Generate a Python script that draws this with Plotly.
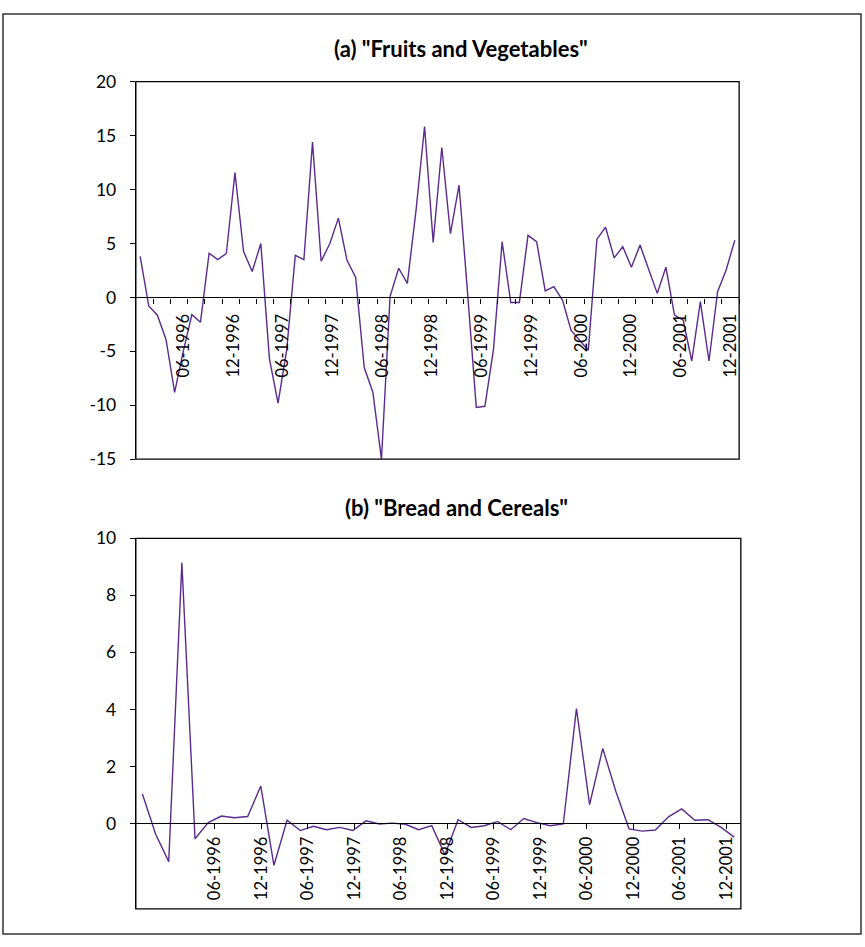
import plotly.graph_objects as go

W, H = 865, 947

# Panel (a): monthly change, Fruits and Vegetables (70 observations)
fruit_veg = [3.8, -0.8, -1.65, -3.9, -8.8, -5.0, -1.6, -2.3, 4.1, 3.5,
             4.07, 11.57, 4.25, 2.4, 5.0, -5.7, -9.8, -4.9, 3.9, 3.5,
             14.4, 3.35, 4.97, 7.35, 3.44, 1.88, -6.5, -8.8, -15.0, 0.1,
             2.7, 1.3, 8.0, 15.85, 5.1, 13.9, 5.9, 10.4, 0.3, -10.2,
             -10.1, -4.8, 5.16, -0.47, -0.47, 5.75, 5.16, 0.6, 1.0, -0.25,
             -3.06, -4.0, -4.9, 5.4, 6.5, 3.66, 4.7, 2.8, 4.85, 2.6,
             0.37, 2.8, -1.65, -2.1, -5.9, -0.4, -5.9, 0.53, 2.57, 5.3]

# Panel (b): Bread and Cereals (46 observations)
bread_cereals = [1.03, -0.37, -1.34, 9.14, -0.54, 0.03, 0.26, 0.2, 0.24, 1.31,
                 -1.47, 0.11, -0.25, -0.1, -0.22, -0.14, -0.25, 0.09, -0.02, 0.01,
                 -0.03, -0.22, -0.08, -1.1, 0.13, -0.14, -0.08, 0.07, -0.22, 0.17,
                 0.03, -0.08, -0.02, 4.03, 0.66, 2.63, 1.12, -0.19, -0.27, -0.23,
                 0.23, 0.51, 0.11, 0.13, -0.14, -0.48]

# Half-yearly date labels shown under both panels
label_dates = ["1996-06-01", "1996-12-01", "1997-06-01", "1997-12-01",
               "1998-06-01", "1998-12-01", "1999-06-01", "1999-12-01",
               "2000-06-01", "2000-12-01", "2001-06-01", "2001-12-01"]
label_text = ["06-1996", "12-1996", "06-1997", "12-1997", "06-1998", "12-1998",
              "06-1999", "12-1999", "06-2000", "12-2000", "06-2001", "12-2001"]

fv_ticks = [-15, -10, -5, 0, 5, 10, 15, 20]
fv_tick_text = ["-15", "-10", "-5", "0", "5", "10", "15", "20"]
bc_ticks = [0, 2, 4, 6, 8, 10]
bc_tick_text = ["0", "2", "4", "6", "8", "10"]

LINE = "#5b2a8c"
FONT = "Lato, 'Open Sans', sans-serif"


def px_x(p):
    return p / W


def px_y(p):
    return 1 - p / H


# plot-area geometry (pixels)
a_left, a_right, a_top, a_bot = 136, 740, 72.3, 458.3
b_left, b_right, b_top, b_bot = 136, 741.7, 539.3, 918.3
a_ymin, a_ymax = -15, 20
b_ymin, b_ymax = -3, 10
a_dates = ["1995-12-09", "2002-01-02"]
b_dates = ["1995-07-28", "2002-01-26"]

a_dom = [px_y(a_bot), px_y(a_top)]
b_dom = [px_y(b_bot), px_y(b_top)]
a_zero = a_dom[0] + (0 - a_ymin) / (a_ymax - a_ymin) * (a_dom[1] - a_dom[0])
b_zero = b_dom[0] + (0 - b_ymin) / (b_ymax - b_ymin) * (b_dom[1] - b_dom[0])

fig = go.Figure()
fig.add_trace(go.Scatter(x=list(range(len(fruit_veg))), y=fruit_veg, mode="lines",
                         line=dict(color=LINE, width=1.4), xaxis="x", yaxis="y",
                         showlegend=False, hoverinfo="skip"))
fig.add_trace(go.Scatter(x=list(range(len(bread_cereals))), y=bread_cereals, mode="lines",
                         line=dict(color=LINE, width=1.4), xaxis="x2", yaxis="y2",
                         showlegend=False, hoverinfo="skip"))
# empty carriers so the calendar axes are laid out
for xa, ya in (("x3", "y"), ("x4", "y2"), ("x5", "y2")):
    fig.add_trace(go.Scatter(x=label_dates, y=[0] * len(label_dates), mode="none",
                             xaxis=xa, yaxis=ya, showlegend=False, hoverinfo="skip"))

yfont = dict(family=FONT, size=17.5, color="black")
xfont = dict(family=FONT, size=16.5, color="black")

fig.update_layout(
    width=W, height=H, margin=dict(l=0, r=0, t=0, b=0),
    paper_bgcolor="white", plot_bgcolor="white",
    # data axis of panel (a): crosses at zero, ticks every two observations
    xaxis=dict(domain=[px_x(a_left), px_x(a_right)], range=[-0.5, len(fruit_veg) - 0.5],
               anchor="free", position=a_zero, showline=True, linecolor="black",
               linewidth=1.3, ticks="outside", ticklen=5, tickcolor="black",
               tick0=-0.5, dtick=2, showticklabels=False, showgrid=False,
               zeroline=False),
    yaxis=dict(domain=a_dom, range=[a_ymin, a_ymax], tickvals=fv_ticks,
               ticktext=fv_tick_text,
               showline=True, linecolor="black", linewidth=1.3, ticks="outside",
               ticklen=5, tickcolor="black", tickfont=yfont, showgrid=False,
               zeroline=False, ticklabelstandoff=10),
    # calendar labels of panel (a), next to the zero line
    xaxis3=dict(overlaying="x", type="date", range=a_dates,
                anchor="free", position=a_zero, tickvals=label_dates,
                ticktext=label_text, tickangle=-90, ticks="outside", ticklen=9,
                tickcolor="rgba(0,0,0,0)", tickfont=xfont, showline=False,
                showgrid=False, zeroline=False),
    # panel (b)
    xaxis2=dict(domain=[px_x(b_left), px_x(b_right)], range=[-0.5, len(bread_cereals) - 0.5],
                anchor="free", position=b_zero, showline=True, linecolor="black",
                linewidth=1.3, ticks="", showticklabels=False, showgrid=False,
                zeroline=False),
    yaxis2=dict(domain=b_dom, range=[b_ymin, b_ymax], tickvals=bc_ticks,
                ticktext=bc_tick_text,
                showline=True, linecolor="black", linewidth=1.3, ticks="outside",
                ticklen=5, tickcolor="black", tickfont=yfont, showgrid=False,
                zeroline=False, ticklabelstandoff=10, anchor="x2"),
    xaxis4=dict(overlaying="x2", type="date", range=b_dates,
                anchor="free", position=b_zero, tickvals=label_dates,
                ticks="outside", ticklen=5, tickcolor="black",
                showline=False, showgrid=False, zeroline=False, showticklabels=False),
    xaxis5=dict(overlaying="x2", type="date", range=b_dates,
                anchor="y2", tickvals=label_dates, ticktext=label_text,
                tickangle=-90, ticks="", ticklabelposition="inside",
                tickfont=xfont, showline=False, showgrid=False, zeroline=False),
)

# plot-area frames and the outer frame of the figure
for xr, yr in (("x domain", "y domain"), ("x2 domain", "y2 domain")):
    fig.add_shape(type="rect", xref=xr, yref=yr, x0=0, x1=1, y0=0, y1=1,
                  line=dict(color="black", width=1.3), layer="above")
fig.add_shape(type="rect", xref="paper", yref="paper", x0=px_x(3), x1=px_x(862),
              y0=px_y(944), y1=px_y(3), line=dict(color="#333333", width=1.5))

title_font = dict(family=FONT, size=22, color="black", weight="bold")
fig.add_annotation(text='(a) "Fruits and Vegetables"', x=px_x(462), y=px_y(38),
                   xref="paper", yref="paper", xanchor="center", yanchor="middle",
                   showarrow=False, font=title_font)
fig.add_annotation(text='(b) "Bread and Cereals"', x=px_x(457), y=px_y(508),
                   xref="paper", yref="paper", xanchor="center", yanchor="middle",
                   showarrow=False, font=title_font)

fig.write_html("out.html")
